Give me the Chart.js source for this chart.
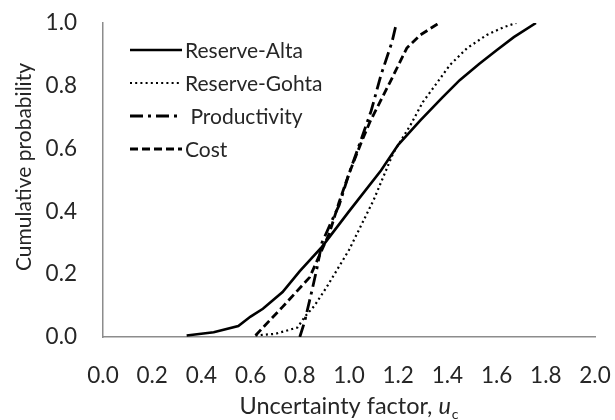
<!DOCTYPE html>
<html>
<head>
<meta charset="utf-8">
<script src="https://cdn.jsdelivr.net/npm/chart.js@4/dist/chart.umd.min.js"></script>
<style>
  html, body { margin: 0; padding: 0; background: #ffffff; }
  #wrap { width: 615px; height: 420px; }
</style>
</head>
<body>
<div id="wrap"><canvas id="cdf" width="615" height="420"></canvas></div>
<script>
// Cumulative distributions of the uncertainty factor u_c
const altaU = [0.34, 0.45, 0.55, 0.60, 0.65, 0.73, 0.80, 0.89, 1.00, 1.13, 1.20, 1.29, 1.38, 1.45, 1.53, 1.60, 1.67, 1.76];
const altaP = [0.005, 0.015, 0.035, 0.065, 0.09, 0.143, 0.21, 0.287, 0.40, 0.53, 0.612, 0.69, 0.763, 0.818, 0.87, 0.913, 0.955, 1.0];

const gohtaU = [0.62, 0.70, 0.79, 0.82, 0.86, 0.91, 1.00, 1.10, 1.18, 1.25, 1.30, 1.36, 1.41, 1.48, 1.56, 1.63, 1.68];
const gohtaP = [0.005, 0.01, 0.03, 0.064, 0.10, 0.16, 0.277, 0.436, 0.586, 0.675, 0.748, 0.812, 0.866, 0.92, 0.962, 0.987, 1.0];

const prodU = [0.80, 0.82, 0.85, 0.87, 0.89, 0.93, 0.96, 1.00, 1.05, 1.09, 1.13, 1.175, 1.19];
const prodP = [0.0, 0.05, 0.15, 0.22, 0.30, 0.37, 0.42, 0.52, 0.63, 0.72, 0.834, 0.94, 0.99];

const costU = [0.62, 0.65, 0.73, 0.84, 0.92, 0.96, 1.00, 1.05, 1.085, 1.167, 1.235, 1.29, 1.36];
const costP = [0.005, 0.03, 0.096, 0.19, 0.33, 0.43, 0.52, 0.62, 0.685, 0.812, 0.92, 0.962, 0.997];

const seriesNames = ['Reserve-Alta', 'Reserve-Gohta', 'Productivity', 'Cost'];
const xTicks = [0.0, 0.2, 0.4, 0.6, 0.8, 1.0, 1.2, 1.4, 1.6, 1.8, 2.0];
const yTicks = [0.0, 0.2, 0.4, 0.6, 0.8, 1.0];

const TEXT = '#262626';
const AXIS = '#8c8c8c';
const FONT = 'Lato, "Open Sans", sans-serif';

function points(us, ps) {
  return us.map((u, i) => ({ x: u, y: ps[i] }));
}

const lineStyles = [
  { borderWidth: 2.6, borderDash: [] },
  { borderWidth: 2.2, borderDash: [2, 3.2] },
  { borderWidth: 2.8, borderDash: [13, 5, 3, 5] },
  { borderWidth: 2.8, borderDash: [8, 4] }
];

const datasets = [
  points(altaU, altaP),
  points(gohtaU, gohtaP),
  points(prodU, prodP),
  points(costU, costP)
].map((d, i) => ({
  label: seriesNames[i],
  data: d,
  showLine: true,
  borderColor: '#000000',
  backgroundColor: '#000000',
  borderWidth: lineStyles[i].borderWidth,
  borderDash: lineStyles[i].borderDash,
  pointRadius: 0,
  tension: 0,
  fill: false
}));

// Legend drawn as line samples followed by labels, inside the plot area
const sampleLegend = {
  id: 'sampleLegend',
  afterDatasetsDraw(chart) {
    const ctx = chart.ctx;
    const x0 = 130, x1 = 182, top = 50, step = 33;
    ctx.save();
    chart.data.datasets.forEach((ds, i) => {
      const y = top + i * step;
      ctx.beginPath();
      ctx.strokeStyle = ds.borderColor;
      ctx.lineWidth = ds.borderWidth;
      ctx.setLineDash(ds.borderDash || []);
      ctx.moveTo(x0, y);
      ctx.lineTo(x1, y);
      ctx.stroke();
      ctx.setLineDash([]);
      ctx.fillStyle = TEXT;
      ctx.font = '21px ' + FONT;
      ctx.textAlign = 'left';
      ctx.textBaseline = 'middle';
      ctx.fillText((i === 2 ? ' ' : '') + ds.label, x1 + 3, y + 1);
    });
    ctx.restore();
  }
};

// Axis titles: rotated vertical title and a horizontal one with italic u and subscript c
const axisTitles = {
  id: 'axisTitles',
  afterDraw(chart) {
    const ctx = chart.ctx;
    const area = chart.chartArea;
    ctx.save();
    ctx.fillStyle = TEXT;

    // vertical
    ctx.save();
    ctx.translate(24, 167);
    ctx.rotate(-Math.PI / 2);
    ctx.font = '21px ' + FONT;
    ctx.textAlign = 'center';
    ctx.textBaseline = 'middle';
    ctx.fillText('Cumulative probability', 0, 0);
    ctx.restore();

    // horizontal
    const main = 'Uncertainty factor, ';
    ctx.textBaseline = 'alphabetic';
    ctx.textAlign = 'left';
    const fMain = '23.5px ' + FONT;
    const fItal = 'italic 23.5px ' + FONT;
    const fSub = '14px ' + FONT;
    ctx.font = fMain; const w1 = ctx.measureText(main).width;
    ctx.font = fItal; const w2 = ctx.measureText('u').width;
    ctx.font = fSub; const w3 = ctx.measureText('c').width;
    const total = w1 + w2 + 1 + w3;
    let x = (area.left + area.right) / 2 - total / 2;
    const base = 414;
    ctx.font = fMain; ctx.fillText(main, x, base); x += w1;
    ctx.font = fItal; ctx.fillText('u', x, base); x += w2 + 1;
    ctx.font = fSub; ctx.fillText('c', x, base + 5);
    ctx.restore();
  }
};

new Chart(document.getElementById('cdf'), {
  type: 'scatter',
  data: { datasets },
  options: {
    responsive: false,
    animation: false,
    devicePixelRatio: 1,
    layout: { padding: { left: 0, top: 23, right: 20, bottom: 0 } },
    plugins: {
      legend: { display: false },
      tooltip: { enabled: false }
    },
    scales: {
      x: {
        type: 'linear',
        min: 0,
        max: 2,
        afterBuildTicks(scale) { scale.ticks = xTicks.map(v => ({ value: v })); },
        afterFit(scale) {
          scale.height = 83;
          scale.paddingLeft = 0;
          scale.paddingRight = 0;
        },
        grid: { display: false, drawTicks: false },
        border: { display: true, color: AXIS, width: 1.5 },
        ticks: {
          padding: 25,
          color: TEXT,
          font: { family: FONT, size: 22.5 },
          maxRotation: 0,
          autoSkip: false,
          callback: v => Number(v).toFixed(1)
        }
      },
      y: {
        type: 'linear',
        min: 0,
        max: 1,
        afterBuildTicks(scale) { scale.ticks = yTicks.map(v => ({ value: v })); },
        afterFit(scale) {
          scale.width = 103;
          scale.paddingTop = 0;
          scale.paddingBottom = 0;
        },
        grid: { display: false, drawTicks: false },
        border: { display: true, color: AXIS, width: 1.5 },
        ticks: {
          padding: 26,
          color: TEXT,
          font: { family: FONT, size: 22.5 },
          autoSkip: false,
          callback: v => Number(v).toFixed(1)
        }
      }
    }
  },
  plugins: [sampleLegend, axisTitles]
});
</script>
</body>
</html>
